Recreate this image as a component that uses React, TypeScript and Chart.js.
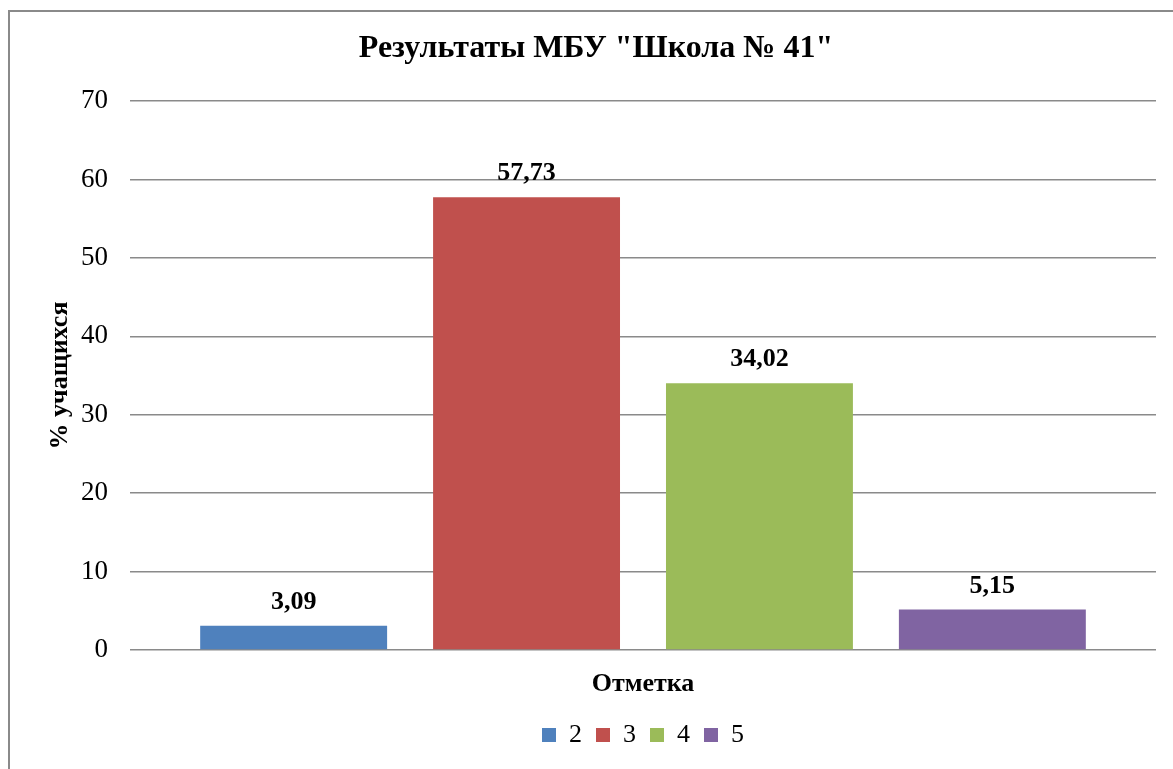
import React, { useEffect, useRef } from "react";
import { Chart, registerables } from "chart.js";

Chart.register(...registerables);

const chartTitle = 'Результаты МБУ "Школа № 41"';
const xAxisTitle = "Отметка";
const yAxisTitle = "% учащихся";
const categories = [""];
const seriesNames = ["2", "3", "4", "5"];
const grade2 = [3.09];
const grade3 = [57.73];
const grade4 = [34.02];
const grade5 = [5.15];
const seriesColors = ["#4F81BD", "#C0504D", "#9BBB59", "#8064A2"];
const yMin = 0;
const yMax = 70;
const yStep = 10;

const FONT = '"Liberation Serif", "Times New Roman", serif';

const valueLabels = {
  id: "valueLabels",
  afterDatasetsDraw(chart: any) {
    const ctx = chart.ctx;
    ctx.save();
    ctx.font = `bold 26px ${FONT}`;
    ctx.fillStyle = "#000";
    ctx.textAlign = "center";
    ctx.textBaseline = "alphabetic";
    chart.data.datasets.forEach((ds: any, i: number) => {
      const meta = chart.getDatasetMeta(i);
      meta.data.forEach((el: any, j: number) => {
        const v = ds.data[j] as number;
        const txt = v.toFixed(2).replace(".", ",");
        ctx.fillText(txt, el.x, el.y - 17);
      });
    });
    ctx.restore();
  },
};

export default function App() {
  const ref = useRef<HTMLCanvasElement>(null);

  useEffect(() => {
    if (!ref.current) return;
    Chart.defaults.font.family = FONT;
    Chart.defaults.color = "#000";
    const series = [grade2, grade3, grade4, grade5];
    const chart = new Chart(ref.current, {
      type: "bar",
      data: {
        labels: categories,
        datasets: series.map((d, i) => ({
          label: seriesNames[i],
          data: d,
          backgroundColor: seriesColors[i],
          borderWidth: 0,
          yAxisID: "y",
          categoryPercentage: 0.908,
          barPercentage: 0.8026,
        })),
      },
      options: {
        responsive: false,
        animation: false,
        layout: { padding: { left: 0, right: 0, top: 0, bottom: 11 } },
        plugins: {
          title: {
            display: true,
            text: chartTitle,
            font: { size: 32, weight: "bold", family: FONT },
            color: "#000",
            padding: { top: 17.8, bottom: 32.8 },
          },
          legend: {
            display: true,
            position: "bottom",
            fullSize: false,
            labels: {
              boxWidth: 14,
              boxHeight: 14,
              padding: 14,
              font: { size: 26, family: FONT },
              color: "#000",
            },
          },
          tooltip: { enabled: false },
        },
        scales: {
          x: {
            type: "category",
            grid: { display: false, drawTicks: false },
            border: { display: false },
            ticks: { display: false },
            title: {
              display: true,
              text: xAxisTitle,
              font: { size: 26, weight: "bold", family: FONT },
              color: "#000",
              padding: { top: 19.4, bottom: 8.4 },
            },
            afterFit: (s: any) => {
              s.height = 58;
            },
          },
          y: {
            type: "linear",
            position: "left",
            min: yMin,
            max: yMax,
            ticks: {
              stepSize: yStep,
              padding: 22,
              font: { size: 27, family: FONT },
              color: "#000",
            },
            grid: { color: "#8a8a8a", lineWidth: 1.5, drawTicks: false },
            border: { display: false },
            title: {
              display: true,
              text: yAxisTitle,
              font: { size: 26, weight: "bold", family: FONT },
              color: "#000",
              padding: { top: 34.4, bottom: 0 },
            },
            afterFit: (s: any) => {
              s.width = 120;
            },
          },
          yR: {
            type: "linear",
            position: "right",
            display: true,
            grid: { display: false, drawTicks: false },
            border: { display: false },
            ticks: { display: false },
            afterFit: (s: any) => {
              s.width = 26;
            },
          },
        },
      } as any,
      plugins: [valueLabels],
    });
    return () => chart.destroy();
  }, []);

  return (
    <div style={{ position: "fixed", inset: 0, overflow: "hidden", background: "#fff" }}>
      <div
        style={{
          position: "absolute",
          left: 8,
          top: 10,
          width: 1300,
          height: 900,
          borderLeft: "2px solid #8a8a8a",
          borderTop: "2px solid #8a8a8a",
        }}
      >
        <canvas ref={ref} width={1172} height={757} style={{ display: "block", width: 1172, height: 757 }} />
      </div>
    </div>
  );
}
